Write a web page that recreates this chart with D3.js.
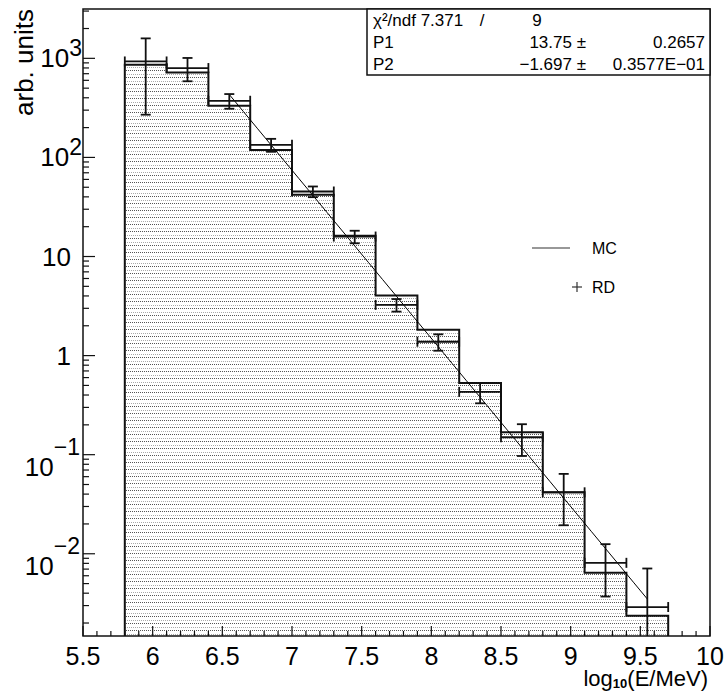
<!DOCTYPE html>
<html lang="en">
<head>
<meta charset="UTF-8">
<title>log10(E/MeV) spectrum</title>
<script src="https://d3js.org/d3.v7.min.js"></script>
<style>
  body { margin: 0; background: #fff; }
  svg { display: block; font-family: "Liberation Sans", Arial, sans-serif; }
</style>
</head>
<body>
<script>
// bin edges in log10(E/MeV)
const edges = [5.8, 6.1, 6.4, 6.7, 7.0, 7.3, 7.6, 7.9, 8.2, 8.5, 8.8, 9.1, 9.4, 9.7];
// MC histogram contents
const mc = [861, 720, 332, 119, 42, 16.2, 4.04, 1.82, 0.53, 0.1685, 0.0418, 0.00644, 0.00237];
// RD points and errors
const rd = [930, 798, 373, 134, 45.3, 15.9, 3.25, 1.38, 0.43, 0.15, 0.0417, 0.0081, 0.0029];
const rdErr = [660, 211, 63, 20, 5.6, 2.3, 0.47, 0.26, 0.10, 0.053, 0.0223, 0.0044, 0.0042];
// fit log10(y) = P1 + P2*x
const fitPar = [13.75, -1.697];
const fitRange = [6.55, 9.55];
const xTicks = [5.5, 6, 6.5, 7, 7.5, 8, 8.5, 9, 9.5, 10];
const yDecades = [-2, -1, 0, 1, 2, 3];
const statRows = [
  ["χ²/ndf 7.371", "/", "9", ""],
  ["P1", "13.75 ±", "", "0.2657"],
  ["P2", "−1.697 ±", "", "0.3577E−01"]
];

const W = 726, H = 692;
const x = d3.scaleLinear().domain([5.5, 10]).range([83, 710]);
const y = d3.scaleLog().domain([Math.pow(10, -2.83), Math.pow(10, 3.498)]).range([636, 9]);

const svg = d3.select("body").append("svg")
    .attr("width", W).attr("height", H);

// dotted fill pattern
const pat = svg.append("defs").append("pattern")
    .attr("id", "dots").attr("patternUnits", "userSpaceOnUse")
    .attr("width", 4).attr("height", 7);
[[0, 0, "#555"], [2, 0, "#555"], [1, 4, "#aaa"], [3, 4, "#aaa"]].forEach(p => {
  pat.append("rect").attr("x", p[0]).attr("y", p[1]).attr("width", 1).attr("height", 1).attr("fill", p[2]);
});

svg.append("clipPath").attr("id", "frame")
  .append("rect").attr("x", 83).attr("y", 9).attr("width", 627).attr("height", 627);

const plot = svg.append("g").attr("clip-path", "url(#frame)");

// histogram
let outline = "M" + x(edges[0]) + "," + y.range()[0];
mc.forEach((v, i) => { outline += "V" + y(v) + "H" + x(edges[i + 1]); });
outline += "V" + y.range()[0];
plot.append("path").attr("d", outline + "Z").attr("fill", "url(#dots)");
plot.append("path").attr("d", outline).attr("fill", "none")
    .attr("stroke", "#111").attr("stroke-width", 2);

// fit line
const fx = d3.range(0, 31).map(k => fitRange[0] + k * (fitRange[1] - fitRange[0]) / 30);
plot.append("path")
    .datum(fx)
    .attr("d", d3.line().x(t => x(t)).y(t => y(Math.pow(10, fitPar[0] + fitPar[1] * t))))
    .attr("fill", "none").attr("stroke", "#000").attr("stroke-width", 1);

// RD points
const gRd = plot.append("g").attr("stroke", "#111").attr("stroke-width", 1.8).attr("fill", "none");
rd.forEach((v, i) => {
  const x0 = x(edges[i]), x1 = x(edges[i + 1]), xc = (x0 + x1) / 2;
  const yc = y(v);
  const hi = y(v + rdErr[i]);
  const loV = v - rdErr[i];
  const lo = loV > 0 ? y(loV) : 700;
  gRd.append("line").attr("x1", x0).attr("x2", x1).attr("y1", yc).attr("y2", yc);
  gRd.append("line").attr("x1", x0).attr("x2", x0).attr("y1", yc - 5).attr("y2", yc + 5);
  gRd.append("line").attr("x1", x1).attr("x2", x1).attr("y1", yc - 5).attr("y2", yc + 5);
  gRd.append("line").attr("x1", xc).attr("x2", xc).attr("y1", hi).attr("y2", lo);
  gRd.append("line").attr("x1", xc - 5).attr("x2", xc + 5).attr("y1", hi).attr("y2", hi);
  if (loV > 0) gRd.append("line").attr("x1", xc - 5).attr("x2", xc + 5).attr("y1", lo).attr("y2", lo);
});

// frame
svg.append("rect").attr("x", 83).attr("y", 9).attr("width", 627).attr("height", 627)
    .attr("fill", "none").attr("stroke", "#111").attr("stroke-width", 1.5);

// x ticks
const gx = svg.append("g").attr("stroke", "#111").attr("stroke-width", 1.2);
d3.range(55, 101).forEach(k => {
  const t = k / 10;
  const major = k % 5 === 0;
  gx.append("line").attr("x1", x(t)).attr("x2", x(t))
    .attr("y1", 636).attr("y2", 636 - (major ? 10 : 5));
});
svg.append("g").selectAll("text").data(xTicks).join("text")
    .attr("x", t => x(t)).attr("y", 665)
    .attr("text-anchor", "middle").attr("font-size", 25)
    .text(t => String(t));

// y ticks
const gy = svg.append("g").attr("stroke", "#111").attr("stroke-width", 1.2);
const [ymin, ymax] = y.domain();
for (let e = -3; e <= 3; e++) {
  for (let k = 1; k <= 9; k++) {
    const v = k * Math.pow(10, e);
    if (v < ymin || v > ymax) continue;
    gy.append("line").attr("x1", 83).attr("x2", 83 + (k === 1 ? 12 : 6))
      .attr("y1", y(v)).attr("y2", y(v));
  }
}
const gyl = svg.append("g");
yDecades.forEach(e => {
  const ty = y(Math.pow(10, e));
  if (e === 0 || e === 1) {
    gyl.append("text").attr("x", 71).attr("y", ty + 9)
      .attr("text-anchor", "end").attr("font-size", 26)
      .text(e === 0 ? "1" : "10");
  } else {
    const neg = e < 0;
    const t = gyl.append("text").attr("x", neg ? 80 : 82).attr("y", ty + (neg ? 21 : 9))
      .attr("text-anchor", "end").attr("font-size", 26);
    t.append("tspan").text("10");
    t.append("tspan").attr("font-size", 23).attr("dy", neg ? -21 : -11)
      .text(neg ? "−" + (-e) : String(e));
  }
});

// axis titles
const xt = svg.append("text").attr("x", 708).attr("y", 686)
    .attr("text-anchor", "end").attr("font-size", 22);
xt.append("tspan").text("log");
xt.append("tspan").attr("font-size", 13).attr("font-weight", "bold").attr("dy", 2).text("10");
xt.append("tspan").attr("dy", -2).text("(E/MeV)");

svg.append("text").attr("transform", "translate(33,9) rotate(-90)")
    .attr("text-anchor", "end").attr("font-size", 26).text("arb. units");

// stats box
const gs = svg.append("g").attr("font-size", 17);
gs.append("rect").attr("x", 367).attr("y", 9).attr("width", 343).attr("height", 66)
    .attr("fill", "#fff").attr("stroke", "#111").attr("stroke-width", 1.5);
statRows.forEach((r, i) => {
  const by = 26 + i * 22;
  gs.append("text").attr("x", 373).attr("y", by).text(r[0]);
  if (i === 0) {
    gs.append("text").attr("x", 482).attr("y", by).attr("text-anchor", "middle").text(r[1]);
    gs.append("text").attr("x", 537).attr("y", by).attr("text-anchor", "middle").text(r[2]);
  } else {
    gs.append("text").attr("x", 586).attr("y", by).attr("text-anchor", "end").text(r[1]);
    gs.append("text").attr("x", 705).attr("y", by).attr("text-anchor", "end").text(r[3]);
  }
});

// legend
const gl = svg.append("g").attr("font-size", 16);
gl.append("line").attr("x1", 532).attr("x2", 570).attr("y1", 248).attr("y2", 248)
    .attr("stroke", "#333").attr("stroke-width", 1.2);
gl.append("text").attr("x", 592).attr("y", 254).text("MC");
gl.append("line").attr("x1", 572).attr("x2", 582).attr("y1", 287).attr("y2", 287).attr("stroke", "#333").attr("stroke-width", 1.2);
gl.append("line").attr("x1", 577).attr("x2", 577).attr("y1", 282).attr("y2", 292).attr("stroke", "#333").attr("stroke-width", 1.2);
gl.append("text").attr("x", 592).attr("y", 293).text("RD");
</script>
</body>
</html>
